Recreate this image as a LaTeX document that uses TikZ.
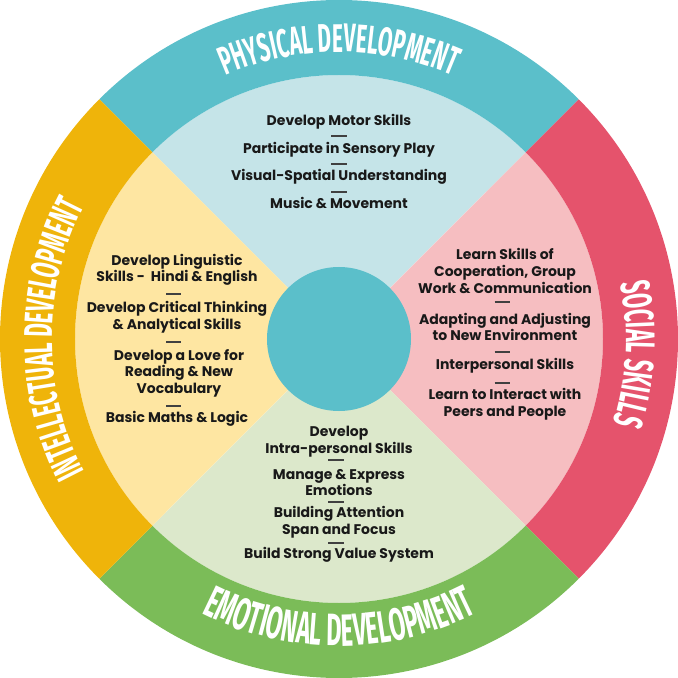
\documentclass[tikz,border=0pt]{standalone}
\usepackage{fontspec}
\setmainfont{Poppins}
\newfontfamily\ringfont{Fira Sans}[FakeStretch=0.52]
\usetikzlibrary{decorations.text}
\definecolor{physdark}{HTML}{5BBFCA}
\definecolor{physlight}{HTML}{C5E4E8}
\definecolor{socdark}{HTML}{E5536C}
\definecolor{soclight}{HTML}{F6BEC1}
\definecolor{emodark}{HTML}{7BBC58}
\definecolor{emolight}{HTML}{DCE8CB}
\definecolor{intdark}{HTML}{EFB40A}
\definecolor{intlight}{HTML}{FEE6A2}
\tikzset{
  item/.style={font=\bfseries\fontsize{10.5}{12.4}\selectfont, align=center, text=black!90},
  sep/.style={draw=black!75, line width=0.9pt},
  ringtext/.style 2 args={decorate, decoration={text along path, text align=center,
    text={|\ringfont\bfseries\fontsize{#2}{#2}\selectfont\color{white}|#1}}}
}
\newcommand\sepline[2]{\draw[sep] (#1-7.5,#2) -- (#1+7.5,#2);}
\begin{document}
\begin{tikzpicture}[x=0.75pt,y=0.75pt]
  \useasboundingbox (-339,-339) rectangle (339,339);
  % inner sectors
  \fill[physlight] (0,0) -- (45:264) arc[start angle=45,end angle=135,radius=264] -- cycle;
  \fill[soclight] (0,0) -- (-45:264) arc[start angle=-45,end angle=45,radius=264] -- cycle;
  \fill[emolight] (0,0) -- (225:264) arc[start angle=225,end angle=315,radius=264] -- cycle;
  \fill[intlight] (0,0) -- (135:264) arc[start angle=135,end angle=225,radius=264] -- cycle;
  % outer ring
  \fill[physdark] (45:339) arc[start angle=45,end angle=135,radius=339] -- (135:264) arc[start angle=135,end angle=45,radius=264] -- cycle;
  \fill[socdark] (-45:339) arc[start angle=-45,end angle=45,radius=339] -- (45:264) arc[start angle=45,end angle=-45,radius=264] -- cycle;
  \fill[emodark] (225:339) arc[start angle=225,end angle=315,radius=339] -- (315:264) arc[start angle=315,end angle=225,radius=264] -- cycle;
  \fill[intdark] (135:339) arc[start angle=135,end angle=225,radius=339] -- (225:264) arc[start angle=225,end angle=135,radius=264] -- cycle;
  \fill[physdark] (0,0) circle[radius=72];
  % ring labels
  \path[ringtext={PHYSICAL DEVELOPMENT}{30}] (135:287) arc[start angle=135,end angle=45,radius=287];
  \path[ringtext={SOCIAL SKILLS}{31}] (42:287) arc[start angle=42,end angle=-48,radius=287];
  \path[ringtext={INTELLECTUAL DEVELOPMENT}{30}] (225:287) arc[start angle=225,end angle=135,radius=287];
  \path[ringtext={EMOTIONAL DEVELOPMENT}{34}] (225:307) arc[start angle=225,end angle=315,radius=307];
  % physical
  \node[item] (motor) at (0,217) {Develop Motor Skills};
  \node[item] (sensory) at (0,189) {Participate in Sensory Play};
  \node[item] (visual) at (0,162) {Visual-Spatial Understanding};
  \node[item] (music) at (0,136) {Music \& Movement};
  \sepline{0}{203} \sepline{0}{175} \sepline{0}{147}
  % social
  \node[item] (coop) at (166,68) {Learn Skills of\\Cooperation, Group\\Work \& Communication};
  \node[item] (adapt) at (166,12) {Adapting and Adjusting\\to New Environment};
  \node[item] (inter) at (166,-27) {Interpersonal Skills};
  \node[item] (peers) at (166,-65) {Learn to Interact with\\Peers and People};
  \sepline{163}{37} \sepline{163}{-13} \sepline{163}{-44}
  % intellectual
  \node[item] (ling) at (-162,69) {Develop Linguistic\\Skills -\ \ Hindi \& English};
  \node[item] (crit) at (-162,21.5) {Develop Critical Thinking\\\& Analytical Skills};
  \node[item] (read) at (-160,-34) {Develop a Love for\\Reading \& New\\Vocabulary};
  \node[item] (maths) at (-162,-80) {Basic Maths \& Logic};
  \sepline{-165}{45} \sepline{-165}{-3} \sepline{-165}{-67}
  % emotional
  \node[item] (intra) at (0,-102.5) {Develop\\Intra-personal Skills};
  \node[item] (emot) at (0,-143.5) {Manage \& Express\\Emotions};
  \node[item] (focus) at (0,-183.5) {Building Attention\\Span and Focus};
  \node[item] (value) at (0,-216) {Build Strong Value System};
  \sepline{-3}{-121} \sepline{-3}{-163} \sepline{-3}{-204}
\end{tikzpicture}
\end{document}
